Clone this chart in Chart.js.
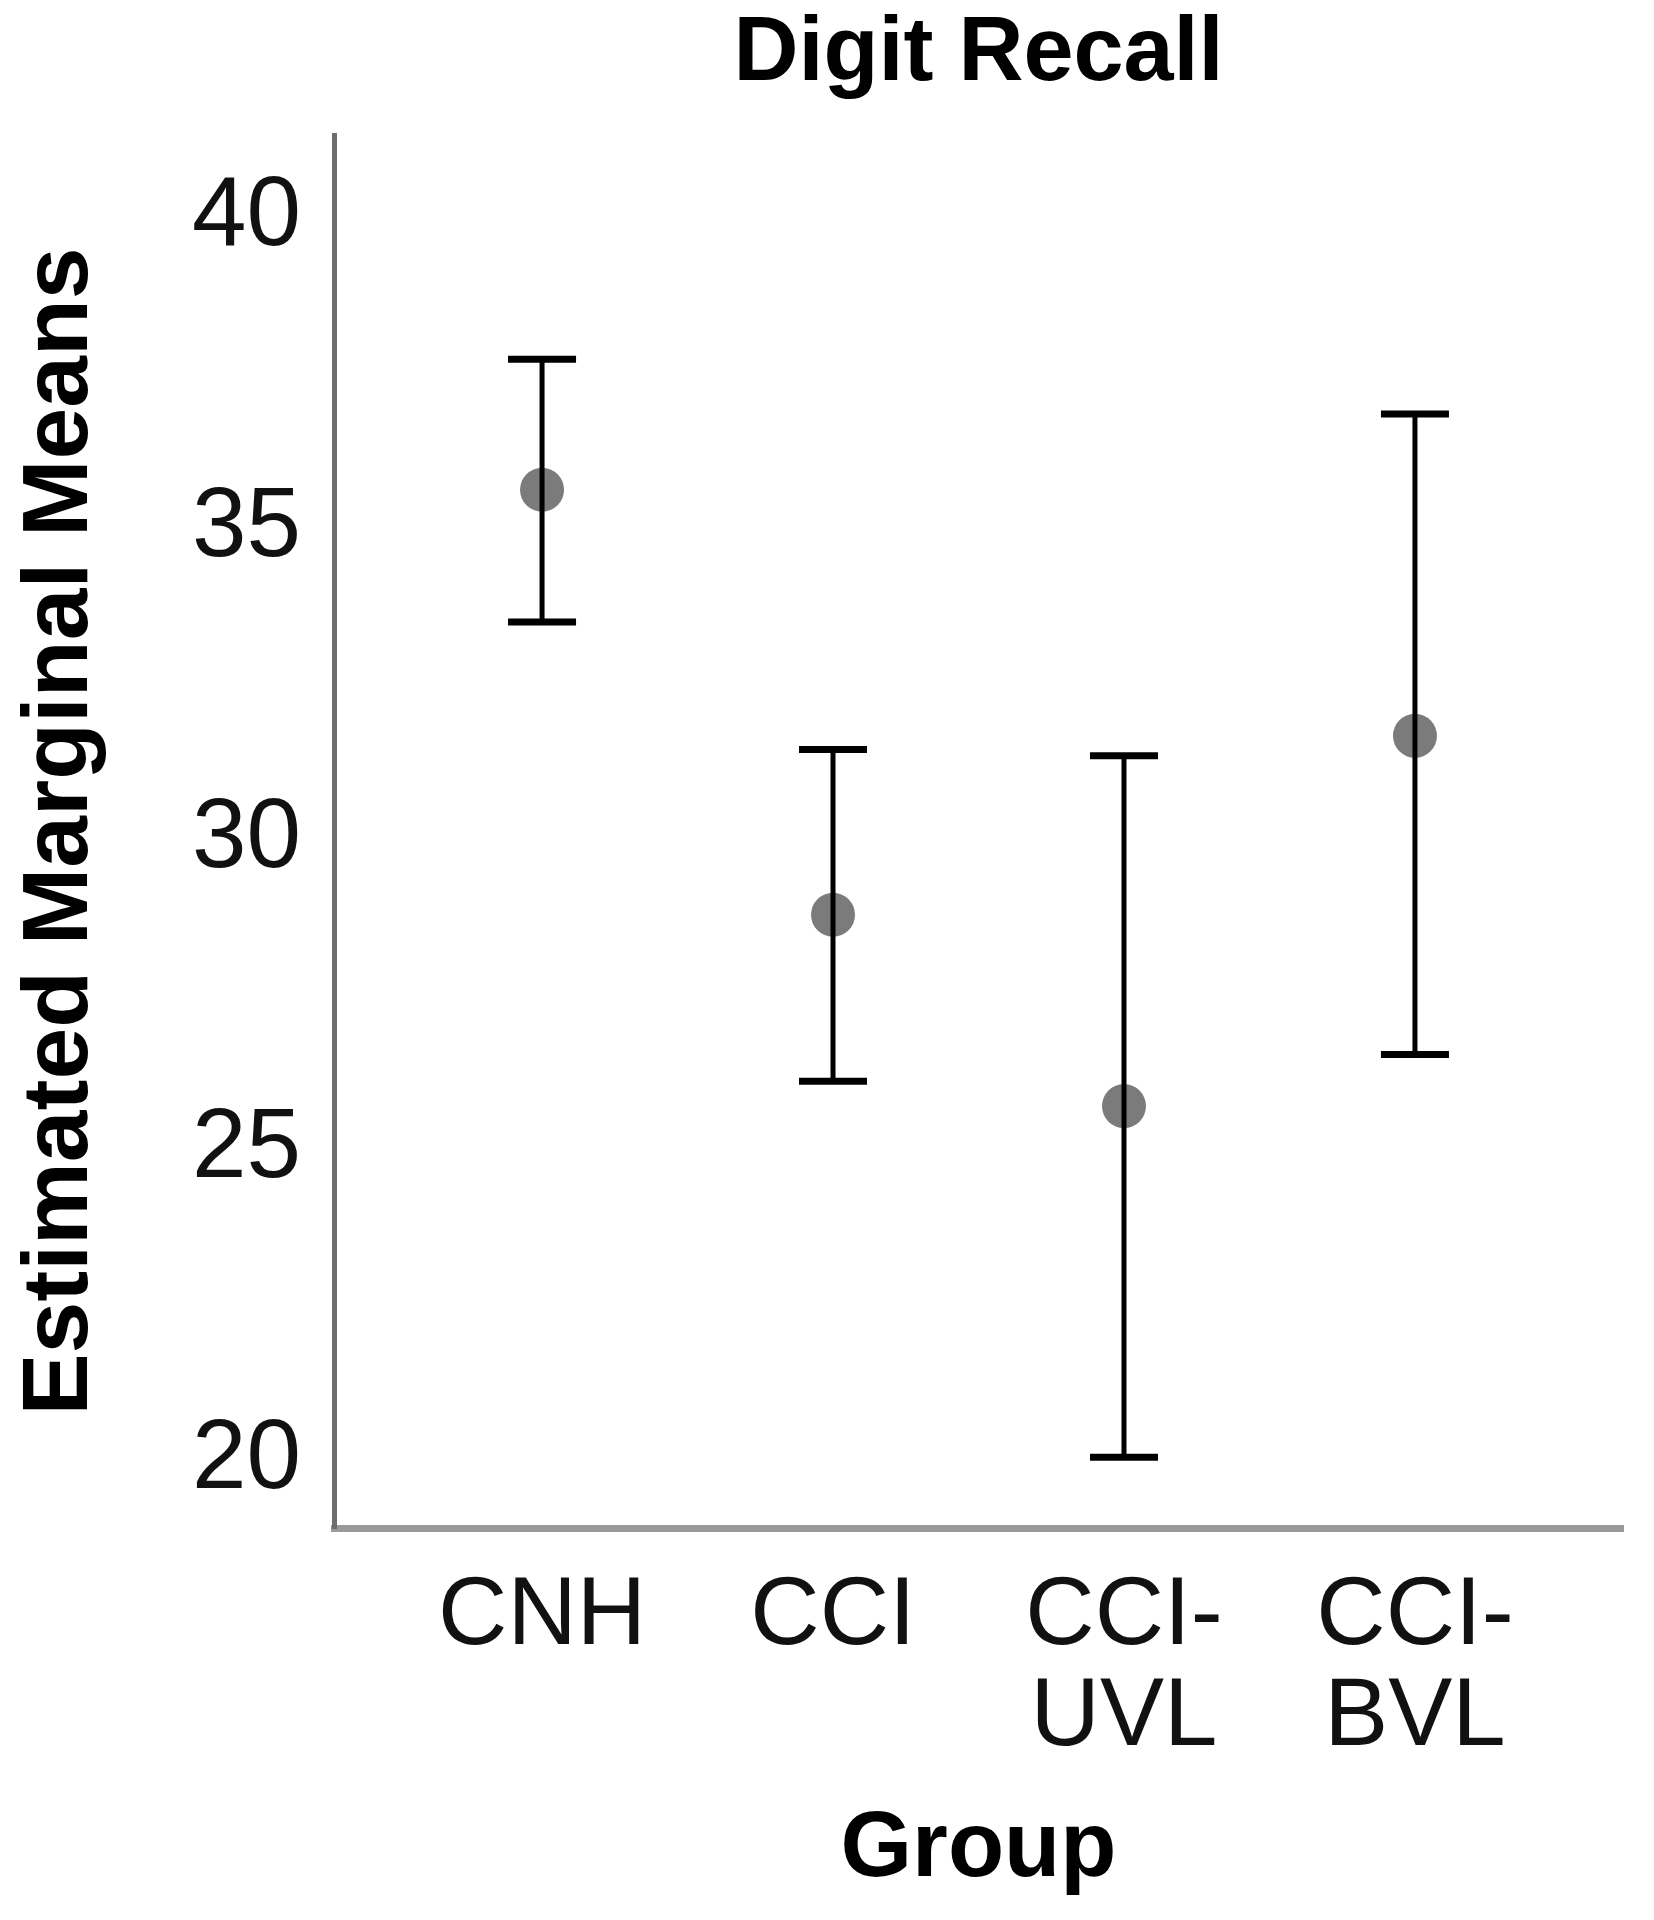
<!DOCTYPE html>
<html>
<head>
<meta charset="utf-8">
<script src="https://cdn.jsdelivr.net/npm/chart.js@4/dist/chart.umd.min.js"></script>
<style>
  html, body { margin: 0; padding: 0; background: #ffffff; }
  #wrap { width: 1654px; height: 1920px; position: relative; }
</style>
</head>
<body>
<div id="wrap"><canvas id="c"></canvas></div>
<script>
// ---- data ----
const categories = ["CNH", "CCI", "CCI-UVL", "CCI-BVL"];
const means      = [35.63, 28.79, 25.71, 31.67];
const upperCI    = [37.73, 31.45, 31.35, 36.85];
const lowerCI    = [33.50, 26.11, 20.06, 26.54];
const yTicks     = [20, 25, 30, 35, 40];

const chartTitle = "Digit Recall";
const xTitle = "Group";
const yTitle = "Estimated Marginal Means";

function splitLabel(s) {
  const i = s.indexOf('-');
  return i >= 0 ? [s.slice(0, i + 1), s.slice(i + 1)] : s;
}

const errorBars = {
  id: 'errorBars',
  afterDatasetsDraw(chart) {
    const {ctx, scales: {x, y}} = chart;
    ctx.save();
    ctx.strokeStyle = '#000000';
    ctx.lineCap = 'butt';
    const capHalf = 34;
    categories.forEach((c, i) => {
      const px = x.getPixelForValue(i);
      const pTop = y.getPixelForValue(upperCI[i]);
      const pBot = y.getPixelForValue(lowerCI[i]);
      ctx.lineWidth = 5;
      ctx.beginPath();
      ctx.moveTo(px, pTop);
      ctx.lineTo(px, pBot);
      ctx.stroke();
      ctx.lineWidth = 7;
      ctx.beginPath();
      ctx.moveTo(px - capHalf, pTop);
      ctx.lineTo(px + capHalf, pTop);
      ctx.moveTo(px - capHalf, pBot);
      ctx.lineTo(px + capHalf, pBot);
      ctx.stroke();
    });
    ctx.restore();
  }
};

new Chart(document.getElementById('c'), {
  type: 'scatter',
  data: {
    datasets: [{
      label: 'Mean',
      data: categories.map((c, i) => ({x: i, y: means[i]})),
      pointRadius: 22,
      pointHoverRadius: 22,
      backgroundColor: 'rgba(100,100,100,0.85)',
      borderWidth: 0
    }]
  },
  options: {
    responsive: true,
    maintainAspectRatio: false,
    animation: false,
    events: [],
    layout: { padding: { left: 0, right: 31, top: 0, bottom: 0 } },
    plugins: {
      legend: { display: false },
      tooltip: { enabled: false },
      title: {
        display: true,
        text: chartTitle,
        fullSize: false,
        color: '#000000',
        font: { family: 'Liberation Sans', size: 90, weight: 'bold', lineHeight: 1.2 },
        padding: { top: 1, bottom: 26 }
      }
    },
    scales: {
      x: {
        type: 'linear',
        min: -0.715,
        max: 3.715,
        afterBuildTicks: (s) => { s.ticks = categories.map((c, i) => ({value: i})); },
        afterFit: (s) => { s.height = 392; },
        ticks: {
          autoSkip: false,
          maxRotation: 0,
          minRotation: 0,
          padding: 39,
          color: '#111111',
          font: { family: 'Liberation Sans', size: 96, lineHeight: 1.05 },
          callback: (v) => splitLabel(categories[v])
        },
        grid: { display: true, color: 'rgba(0,0,0,0)', drawTicks: false },
        border: { display: true, color: '#9a9a9a', width: 7 },
        title: {
          display: true,
          text: xTitle,
          color: '#000000',
          font: { family: 'Liberation Sans', size: 92, weight: 'bold', lineHeight: 1.2 },
          padding: { top: 0, bottom: 14 }
        }
      },
      y: {
        type: 'linear',
        min: 18.92,
        max: 41.34,
        afterBuildTicks: (s) => { s.ticks = yTicks.map(v => ({value: v})); },
        afterFit: (s) => { s.width = 334; },
        ticks: {
          padding: 33,
          color: '#111111',
          font: { family: 'Liberation Sans', size: 98, lineHeight: 1.2 },
          callback: (v) => String(v)
        },
        grid: { display: true, color: 'rgba(0,0,0,0)', drawTicks: false },
        border: { display: true, color: '#6e6e6e', width: 5 },
        title: {
          display: true,
          text: yTitle,
          color: '#000000',
          font: { family: 'Liberation Sans', size: 93, weight: 'bold', lineHeight: 1.2 },
          padding: { top: 6, bottom: 0 }
        }
      }
    }
  },
  plugins: [errorBars]
});
</script>
</body>
</html>
